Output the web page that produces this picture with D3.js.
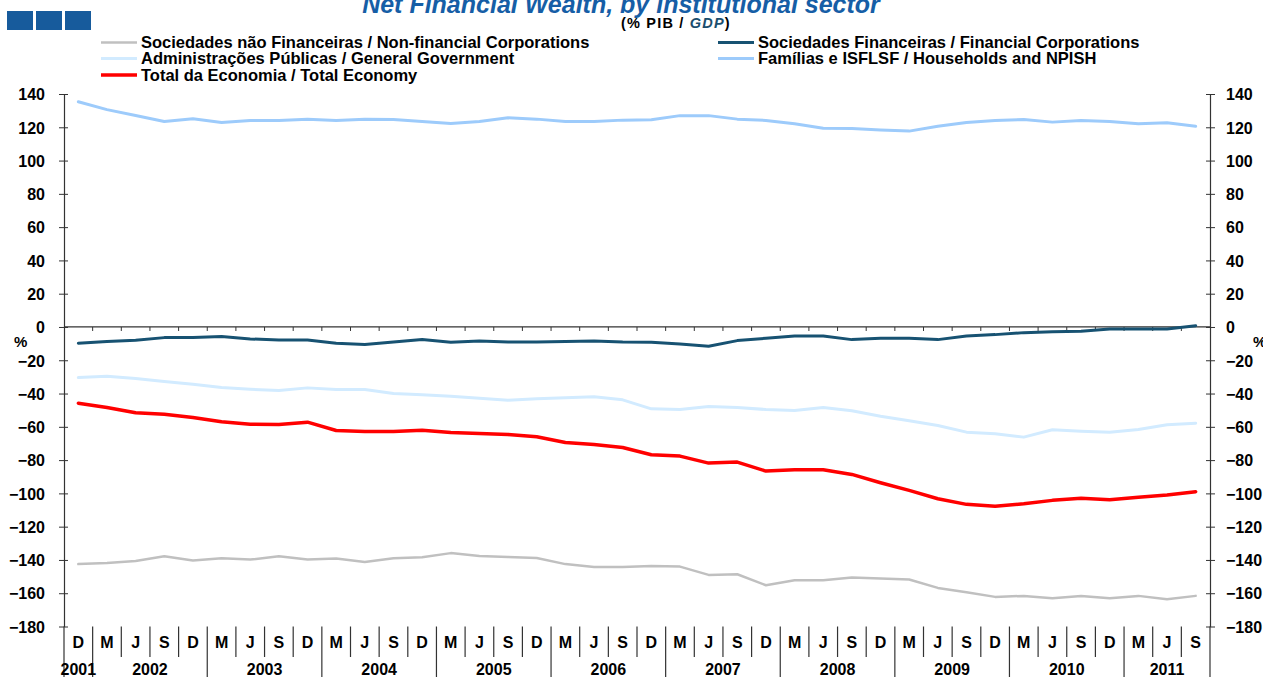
<!DOCTYPE html>
<html>
<head>
<meta charset="utf-8">
<title>Net Financial Wealth</title>
<script src="https://cdn.jsdelivr.net/npm/d3@7"></script>
<style>
    body { margin: 0; background: #fff; }
    svg text { font-family: "Liberation Sans", Arial, sans-serif; font-weight: bold; }
</style>
</head>
<body>
<script>
    // quarters, "letter year"
    var categories = [
        "D 2001",
        "M 2002", "J 2002", "S 2002", "D 2002",
        "M 2003", "J 2003", "S 2003", "D 2003",
        "M 2004", "J 2004", "S 2004", "D 2004",
        "M 2005", "J 2005", "S 2005", "D 2005",
        "M 2006", "J 2006", "S 2006", "D 2006",
        "M 2007", "J 2007", "S 2007", "D 2007",
        "M 2008", "J 2008", "S 2008", "D 2008",
        "M 2009", "J 2009", "S 2009", "D 2009",
        "M 2010", "J 2010", "S 2010", "D 2010",
        "M 2011", "J 2011", "S 2011"
    ];

    var nonFinancial = [-142.5, -141.8, -140.6, -137.8, -140.4, -139.0, -139.8, -137.8, -139.8, -139.2,
                        -141.2, -139.0, -138.4, -135.9, -137.6, -138.2, -138.8, -142.5, -144.3, -144.3,
                        -143.6, -144.0, -149.0, -148.6, -155.2, -152.2, -152.2, -150.6, -151.2, -151.8,
                        -156.8, -159.4, -162.2, -161.6, -163.0, -161.6, -163.0, -161.6, -163.6, -161.6];
    var financial = [-9.8, -8.8, -8.0, -6.4, -6.4, -5.8, -7.2, -7.8, -7.8, -9.8,
                     -10.6, -9.0, -7.6, -9.2, -8.4, -9.0, -9.0, -8.8, -8.4, -9.0,
                     -9.2, -10.2, -11.6, -8.2, -6.8, -5.4, -5.4, -7.6, -6.8, -6.8,
                     -7.6, -5.4, -4.6, -3.4, -2.8, -2.6, -1.2, -1.2, -1.2, 0.8];
    var government = [-30.4, -29.6, -31.0, -32.8, -34.4, -36.4, -37.4, -38.2, -36.6, -37.6,
                      -37.6, -40.0, -40.8, -41.6, -42.8, -44.0, -43.2, -42.6, -42.0, -43.8,
                      -49.2, -49.6, -47.8, -48.4, -49.6, -50.2, -48.4, -50.4, -53.6, -56.4,
                      -59.2, -63.2, -64.2, -66.2, -61.8, -62.6, -63.2, -61.6, -58.8, -57.8];
    var households = [135.3, 130.6, 127.1, 123.5, 125.1, 122.9, 124.1, 124.1, 124.9, 124.1,
                      124.9, 124.7, 123.5, 122.2, 123.5, 125.7, 124.9, 123.5, 123.5, 124.3,
                      124.5, 127.0, 127.0, 124.9, 124.1, 122.1, 119.4, 119.2, 118.4, 117.7,
                      120.6, 122.9, 124.1, 124.7, 123.1, 124.1, 123.5, 122.1, 122.7, 120.6];
    var total = [-45.8, -48.4, -51.6, -52.4, -54.4, -57.0, -58.4, -58.6, -57.2, -62.2,
                 -62.8, -62.8, -62.0, -63.4, -64.0, -64.6, -66.0, -69.4, -70.6, -72.4,
                 -76.8, -77.6, -81.8, -81.2, -86.6, -85.8, -85.8, -88.6, -93.6, -98.2,
                 -103.2, -106.6, -107.8, -106.2, -104.2, -103.0, -103.8, -102.4, -101.0, -99.0];

    var yTicks = [140, 120, 100, 80, 60, 40, 20, 0, -20, -40, -60, -80, -100, -120, -140, -160, -180];

    var series = [
        {name: "Sociedades não Financeiras / Non-financial Corporations", values: nonFinancial, color: "#c0c0c0", w: 2.5},
        {name: "Administrações Públicas / General Government", values: government, color: "#d2ebff", w: 3},
        {name: "Total da Economia / Total Economy", values: total, color: "#ff0000", w: 3.5},
        {name: "Sociedades Financeiras / Financial Corporations", values: financial, color: "#175272", w: 3},
        {name: "Famílias e ISFLSF / Households and NPISH", values: households, color: "#9dcbfb", w: 3}
    ];

    var W = 1263, H = 677;
    var plotL = 64, plotR = 1210, plotT = 94, plotB = 626.5;
    var axisColor = "#333";

    var svg = d3.select("body").append("svg")
        .attr("width", W)
        .attr("height", H);

    var x = d3.scaleBand().domain(categories).range([plotL, plotR]).padding(0);
    var y = d3.scaleLinear().domain([-180, 140]).range([plotB, plotT]);

    // little squares top-left
    svg.selectAll("rect.logo")
        .data([7, 36, 65])
        .enter().append("rect")
        .attr("class", "logo")
        .attr("x", d => d)
        .attr("y", 11)
        .attr("width", 26)
        .attr("height", 19)
        .attr("fill", "#175b9c");

    // title
    svg.append("text")
        .attr("x", 621)
        .attr("y", 13)
        .attr("text-anchor", "middle")
        .style("font-size", "25px")
        .style("font-style", "italic")
        .attr("fill", "#165ea6")
        .text("Net Financial Wealth, by institutional sector");

    var sub = svg.append("text")
        .attr("x", 621)
        .attr("y", 28)
        .style("font-size", "14.5px")
        .style("letter-spacing", "1.2px")
        .attr("fill", "#000");
    sub.append("tspan").text("(% PIB / ");
    sub.append("tspan").style("font-style", "italic").attr("fill", "#1b4e6e").text("GDP");
    sub.append("tspan").text(")");

    // legend
    var legendPos = [[101, 42.5], [101, 58.5], [101, 75], [718, 42.5], [718, 58.5]];
    series.forEach(function(s, i) {
        var p = legendPos[i];
        svg.append("line")
            .attr("x1", p[0]).attr("x2", p[0] + 36)
            .attr("y1", p[1]).attr("y2", p[1])
            .attr("stroke", s.color)
            .attr("stroke-width", s.w);
        svg.append("text")
            .attr("x", p[0] + 40)
            .attr("y", p[1] + 5.5)
            .style("font-size", "16.5px")
            .text(s.name);
    });

    // y axes
    var leftAxis = svg.append("g")
        .attr("transform", "translate(" + plotL + ",0)")
        .call(d3.axisLeft(y).tickValues(yTicks).tickSizeInner(5).tickSizeOuter(0).tickPadding(14));
    var rightAxis = svg.append("g")
        .attr("transform", "translate(" + plotR + ",0)")
        .call(d3.axisRight(y).tickValues(yTicks).tickSizeInner(5).tickSizeOuter(0).tickPadding(16));

    [leftAxis, rightAxis].forEach(function(g, k) {
        g.select(".domain").attr("stroke", axisColor).attr("stroke-width", 1.2);
        g.selectAll(".tick line")
            .attr("stroke", axisColor)
            .attr("x1", k == 0 ? 4 : -4);
        g.selectAll(".tick text")
            .attr("fill", "#000")
            .style("font-size", "16px")
            .attr("font-family", null)
            .attr("dy", "0.36em");
        if (k == 1) g.selectAll(".tick text").attr("x", 16);
    });

    // % labels
    svg.append("text").attr("x", 14).attr("y", 347).style("font-size", "15px").text("%");
    svg.append("text").attr("x", 1253).attr("y", 347).style("font-size", "15px").text("%");

    // zero line with quarter ticks
    svg.append("line")
        .attr("x1", plotL).attr("x2", plotR)
        .attr("y1", y(0)).attr("y2", y(0))
        .attr("stroke", axisColor)
        .attr("stroke-width", 1.2);
    svg.selectAll("line.qtick")
        .data(categories.slice(1))
        .enter().append("line")
        .attr("class", "qtick")
        .attr("x1", d => x(d)).attr("x2", d => x(d))
        .attr("y1", y(0)).attr("y2", y(0) + 4)
        .attr("stroke", axisColor);

    // category separators below plot
    var yearOf = d => d.split(" ")[1];
    var sep = categories.map(function(c, i) {
        var next = categories[i + 1];
        return {x: x(c) + x.bandwidth(), tall: !next || yearOf(next) != yearOf(c)};
    });
    sep.unshift({x: plotL, tall: true});
    svg.selectAll("line.sep")
        .data(sep)
        .enter().append("line")
        .attr("class", "sep")
        .attr("x1", d => d.x).attr("x2", d => d.x)
        .attr("y1", plotB)
        .attr("y2", d => d.tall ? H : 657)
        .attr("stroke", axisColor)
        .attr("stroke-width", 1.2);

    svg.selectAll("text.q")
        .data(categories)
        .enter().append("text")
        .attr("class", "q")
        .attr("x", d => x(d) + x.bandwidth() / 2)
        .attr("y", 648)
        .attr("text-anchor", "middle")
        .style("font-size", "16px")
        .text(d => d.split(" ")[0]);

    var years = Array.from(d3.group(categories, yearOf), ([k, v]) => ({year: k, first: v[0], last: v[v.length - 1]}));
    svg.selectAll("text.yr")
        .data(years)
        .enter().append("text")
        .attr("class", "yr")
        .attr("x", d => (x(d.first) + x(d.last) + x.bandwidth()) / 2)
        .attr("y", 675)
        .attr("text-anchor", "middle")
        .style("font-size", "16px")
        .text(d => d.year);

    // lines
    var line = d3.line()
        .x((d, i) => x(categories[i]) + x.bandwidth() / 2)
        .y(d => y(d));

    var drawOrder = [4, 0, 1, 3, 2];
    drawOrder.forEach(function(k) {
        var s = series[k];
        svg.append("path")
            .datum(s.values)
            .attr("d", line)
            .attr("fill", "none")
            .attr("stroke", s.color)
            .attr("stroke-width", s.w)
            .attr("stroke-linejoin", "round")
            .attr("stroke-linecap", "round");
    });
</script>
</body>
</html>
